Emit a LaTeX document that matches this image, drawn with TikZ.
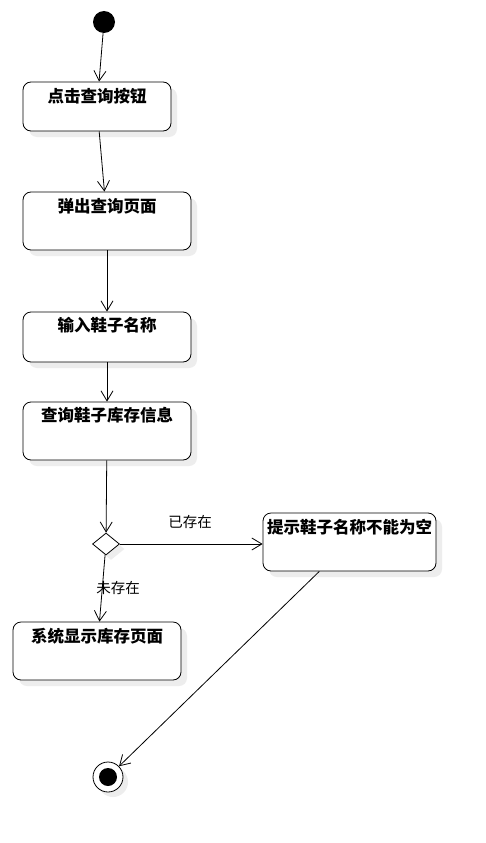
\documentclass[tikz,border=0pt]{standalone}
\usepackage{fontspec}
\newfontfamily\cjk{Noto Sans CJK SC}
\usetikzlibrary{arrows.meta,shapes.geometric,shadows}
\begin{document}
\begin{tikzpicture}[x=1pt,y=-1pt,
  act/.style={draw=black,line width=0.8pt,rounded corners=8pt,fill=white,
    drop shadow={shadow xshift=6pt,shadow yshift=-6pt,fill=black!7,opacity=1}},
  acttext/.style={font=\cjk\bfseries\fontsize{16.5}{19}\selectfont,inner sep=0pt},
  lbl/.style={font=\cjk\fontsize{14.5}{16}\selectfont,inner sep=0pt},
  flow/.style={draw=black,line width=0.8pt,-{Straight Barb[length=10pt,width=12pt]}},
  dec/.style={diamond,draw=black,line width=0.8pt,fill=white,minimum width=27pt,minimum height=22pt,inner sep=0pt,aspect=1.2,
    drop shadow={shadow xshift=5pt,shadow yshift=-5pt,fill=black!7,opacity=1}}]
\useasboundingbox (0,0) rectangle (486,843);
\fill[white] (0,0) rectangle (486,843);

\node[circle,fill=black,minimum size=22pt,inner sep=0pt] (start) at (104,22) {};

\node[act,minimum width=148pt,minimum height=49pt] (b1) at (97,106.5) {};
\node[acttext] (t1) at ([yshift=-15pt]b1.north) {点击查询按钮};

\node[act,minimum width=168pt,minimum height=58pt] (b2) at (107,221) {};
\node[acttext] (t2) at ([yshift=-15pt]b2.north) {弹出查询页面};

\node[act,minimum width=168pt,minimum height=50pt] (b3) at (107,337) {};
\node[acttext] (t3) at ([yshift=-14pt]b3.north) {输入鞋子名称};

\node[act,minimum width=168pt,minimum height=58pt] (b4) at (107,431) {};
\node[acttext] (t4) at ([yshift=-14pt]b4.north) {查询鞋子库存信息};

\node[dec] (d) at (106,544) {};

\node[act,minimum width=173pt,minimum height=58pt] (b5) at (349.5,542) {};
\node[acttext] (t5) at ([yshift=-15pt]b5.north) {提示鞋子名称不能为空};

\node[act,minimum width=168pt,minimum height=58pt] (b6) at (97,651) {};
\node[acttext] (t6) at ([yshift=-15pt]b6.north) {系统显示库存页面};

\node[circle,draw=black,line width=0.8pt,fill=white,minimum size=30pt,inner sep=0pt,
  drop shadow={shadow xshift=5pt,shadow yshift=-5pt,fill=black!7,opacity=1}] (end) at (108,777) {};
\node[circle,fill=black,minimum size=18pt,inner sep=0pt] (endin) at (end.center) {};

\draw[flow] (start) -- (b1);
\draw[flow] (b1) -- (b2);
\draw[flow] (b2) -- (b3);
\draw[flow] (b3) -- (b4);
\draw[flow] (b4) -- (d);
\draw[flow] (d.east) -- (b5.west |- d.east);
\draw[flow] (d) -- (b6);
\draw[flow] (b5) -- (end);

\node[lbl] (l1) at (190,522) {已存在};
\node[lbl] (l2) at (118,588) {未存在};
\end{tikzpicture}
\end{document}
